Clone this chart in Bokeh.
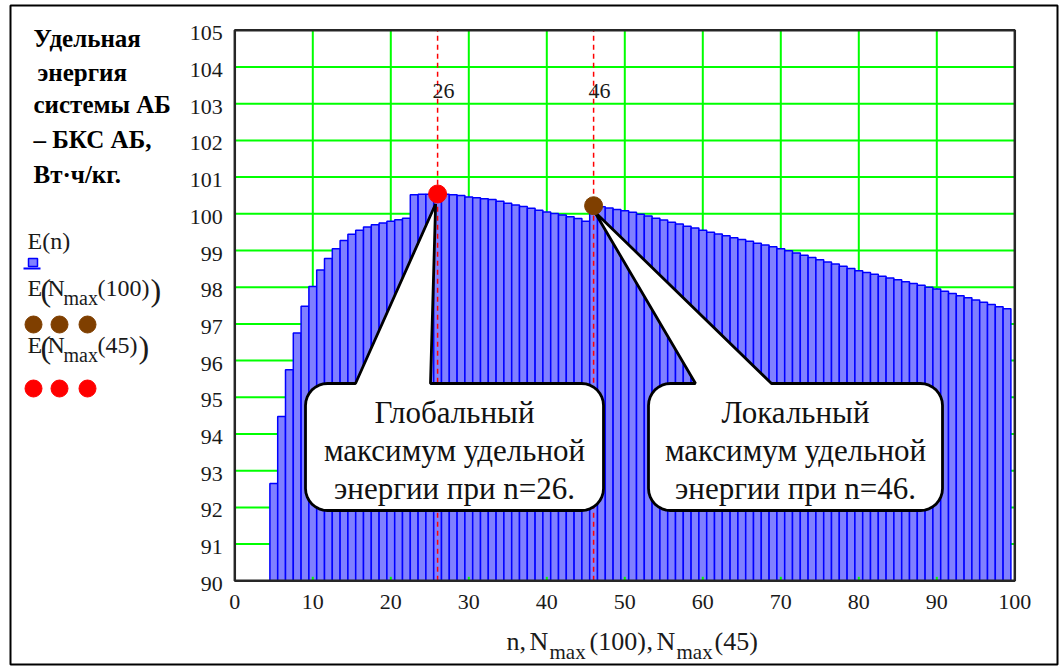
import math
from bokeh.plotting import figure
from bokeh.models import Range1d
from bokeh.core.properties import value
from bokeh.embed import file_html
from bokeh.resources import INLINE

# ---------------- data ----------------
n = list(range(5, 100))
E = [
    92.65, 94.48, 95.75, 96.75, 97.48, 98.02, 98.47, 98.78, 99.05, 99.27,   # 5-14
    99.44, 99.55, 99.64, 99.70, 99.75, 99.80, 99.84, 99.88, 100.52, 100.53,  # 15-24
    100.53, 100.54, 100.53, 100.52, 100.50, 100.46, 100.44, 100.41, 100.39, 100.34,  # 25-34
    100.29, 100.24, 100.20, 100.15, 100.10, 100.05, 100.01, 99.97, 99.92, 99.87,  # 35-44
    99.80, 100.22, 100.19, 100.16, 100.12, 100.08, 100.04, 99.99, 99.94, 99.88,  # 45-54
    99.83, 99.77, 99.72, 99.66, 99.61, 99.55, 99.50, 99.45, 99.40, 99.35,  # 55-64
    99.30, 99.25, 99.20, 99.15, 99.10, 99.05, 98.99, 98.93, 98.87, 98.81,  # 65-74
    98.75, 98.69, 98.63, 98.57, 98.51, 98.45, 98.40, 98.35, 98.30, 98.25,  # 75-84
    98.20, 98.15, 98.10, 98.05, 98.00, 97.95, 97.89, 97.83, 97.77, 97.71,  # 85-94
    97.65, 97.59, 97.53, 97.47, 97.41,  # 95-99
]
n_max100 = [46]
E_max100 = [100.22]
n_max45 = [26]
E_max45 = [100.54]

x_ticks = list(range(0, 101, 10))
y_ticks = list(range(90, 106))
X_MIN, X_MAX, Y_MIN, Y_MAX = 0, 100, 90, 105

title_lines = ["Удельная", "энергия", "системы АБ", "– БКС АБ,", "Вт·ч/кг."]
callout1_lines = ["Глобальный", "максимум удельной", "энергии при n=26."]
callout2_lines = ["Локальный", "максимум удельной", "энергии при n=46."]

# ---------------- layout (pixel geometry of the page) ----------------
W, H = 1064, 668
PX0, PXS = 234.3, 7.8     # pixel of x=X_MIN, pixels per x unit
PY0, PYS = 580.3, 36.7    # pixel of y=Y_MIN, pixels per y unit
SERIF = "Liberation Serif"
TXT = "#1a1a1a"


def dx(px):
    return X_MIN + (px - PX0) / PXS


def dy(py):
    return Y_MIN + (PY0 - py) / PYS


def px(x):
    return PX0 + (x - X_MIN) * PXS


def py(y):
    return PY0 - (y - Y_MIN) * PYS


p = figure(width=W, height=H, x_range=Range1d(dx(0), dx(W)), y_range=Range1d(dy(H), dy(0)),
           output_backend="svg", toolbar_location=None, min_border=0,
           x_axis_location=None, y_axis_location=None)
p.grid.visible = False
p.outline_line_color = None
p.background_fill_color = "white"
p.border_fill_color = "white"

# grid
gx = x_ticks[1:-1]
gy = y_ticks[1:-1]
p.segment(x0=gx, y0=[Y_MIN] * len(gx), x1=gx, y1=[Y_MAX] * len(gx), line_color="#00ff00", line_width=2)
p.segment(x0=[X_MIN] * len(gy), y0=gy, x1=[X_MAX] * len(gy), y1=gy, line_color="#00ff00", line_width=2)

# bars
p.vbar(x=n, top=E, bottom=Y_MIN, width=1, fill_color="#8080ff", line_color="#0000ff", line_width=1.5)

# green tick marks at bottom (inside)
p.segment(x0=gx, y0=[Y_MIN] * len(gx), x1=gx, y1=[Y_MIN + 4 / PYS] * len(gx), line_color="#00ff00", line_width=2)

# dashed verticals
vx = n_max45 + n_max100
p.segment(x0=vx, y0=[Y_MIN] * len(vx), x1=vx, y1=[Y_MAX] * len(vx),
          line_color="#ff0000", line_dash="5 4", line_width=1.5)
p.text(x=vx, y=[dy(90)] * len(vx), text=[str(v) for v in vx], x_offset=6,
       text_align="center", text_baseline="middle", text_font=value(SERIF),
       text_font_size="22px", text_color=TXT)

# inner frame and outer frame
p.quad(left=[X_MIN], right=[X_MAX], bottom=[Y_MIN], top=[Y_MAX], fill_color=None,
       line_color="#262626", line_width=2.5)
p.quad(left=[dx(10)], right=[dx(1057)], bottom=[dy(664)], top=[dy(5)], fill_color=None,
       line_color="#000000", line_width=2)

# tick labels (drawn through the data scales)
p.text(x=x_ticks, y=[Y_MIN] * len(x_ticks), text=[str(t) for t in x_ticks], y_offset=14,
       text_align="center", text_baseline="top", text_font=value(SERIF),
       text_font_size="22px", text_color=TXT)
p.text(x=[X_MIN] * len(y_ticks), y=y_ticks, text=[str(t) for t in y_ticks], x_offset=-12, y_offset=3,
       text_align="right", text_baseline="middle", text_font=value(SERIF),
       text_font_size="22px", text_color=TXT)


# callouts
def callout(x0, y0, x1, y1, r, b0, b1, tip):
    pts = [(x0 + r, y0), (b0, y0), tip, (b1, y0), (x1 - r, y0)]

    def arc(cx, cy, a0, a1):
        for k in range(1, 9):
            a = math.radians(a0 + (a1 - a0) * k / 8)
            pts.append((cx + r * math.cos(a), cy + r * math.sin(a)))

    arc(x1 - r, y0 + r, -90, 0)
    pts.append((x1, y1 - r))
    arc(x1 - r, y1 - r, 0, 90)
    pts.append((x0 + r, y1))
    arc(x0 + r, y1 - r, 90, 180)
    pts.append((x0, y0 + r))
    arc(x0 + r, y0 + r, 180, 270)
    return [dx(a) for a, _ in pts], [dy(b) for _, b in pts]


tip1 = (px(n_max45[0]) - 2, py(E_max45[0]) + 10)
tip2 = (px(n_max100[0]) + 1, py(E_max100[0]) + 6)
for (x0, x1, b0, b1, tip, lines) in [(305, 603, 355, 430, tip1, callout1_lines),
                                     (648, 942, 695, 771, tip2, callout2_lines)]:
    xs, ys = callout(x0, 383, x1, 510, 22, b0, b1, tip)
    p.patch(xs, ys, fill_color="white", line_color="black", line_width=2.8)
    cx = (x0 + x1) / 2
    p.text(x=[dx(cx)] * 3, y=[dy(412), dy(450), dy(488)], text=lines,
           text_align="center", text_baseline="middle", text_font=value(SERIF),
           text_font_size="31px", text_color="#111111")

# markers
p.scatter(x=n_max100, y=E_max100, size=18, fill_color="#7f3f00", line_color="#7f3f00")
p.scatter(x=n_max45, y=E_max45, size=18, fill_color="#ff0000", line_color="#ff0000")


def put(text, x, yb, size, bold=False, color=TXT):
    # yb is the text baseline in page pixels; draw with a 'middle' anchor
    ym = yb - 0.34 * size
    p.text(x=[dx(x)], y=[dy(ym)], text=[text], text_font=value(SERIF), text_font_size=f"{size}px",
           text_font_style="bold" if bold else "normal", text_color=color,
           text_baseline="middle", text_align="left")


# left title
for (line, yb, xl) in zip(title_lines, [46, 80, 112, 147, 182], [33, 37, 33, 33, 33]):
    put(line, xl, yb, 25, bold=True, color="#000000")

# legend entry 1
put("E(n)", 27, 249, 24)
p.quad(left=[dx(28)], right=[dx(37)], top=[dy(258)], bottom=[dy(266)],
       fill_color="#8080ff", line_color="#0000ff", line_width=1.5)
p.segment(x0=[dx(23)], y0=[dy(268)], x1=[dx(40)], y1=[dy(268)], line_color="#0000ff", line_width=2)

# legend entry 2
put("E", 27, 296, 24)
put("(", 40, 300, 32)
put("N", 47, 296, 24)
put("max", 63, 304, 20)
put("(100)", 97, 296, 24)
put(")", 150, 300, 32)
p.scatter(x=[dx(c) for c in [33, 59, 87]], y=[dy(324)] * 3, size=17,
          fill_color="#7f3f00", line_color="#7f3f00")

# legend entry 3
put("E", 27, 353, 24)
put("(", 40, 357, 32)
put("N", 47, 353, 24)
put("max", 63, 361, 20)
put("(45)", 97, 353, 24)
put(")", 138, 357, 32)
p.scatter(x=[dx(c) for c in [33, 59, 87]], y=[dy(388)] * 3, size=17,
          fill_color="#ff0000", line_color="#ff0000")

# x-axis label
put("n,", 506, 650, 26)
put("N", 529, 650, 26)
put("max", 549, 659, 21)
put("(100)", 589, 650, 26)
put(",", 646, 650, 26)
put("N", 656, 650, 26)
put("max", 676, 659, 21)
put("(45)", 714, 650, 26)

open("out.html", "w").write(file_html(p, INLINE))
